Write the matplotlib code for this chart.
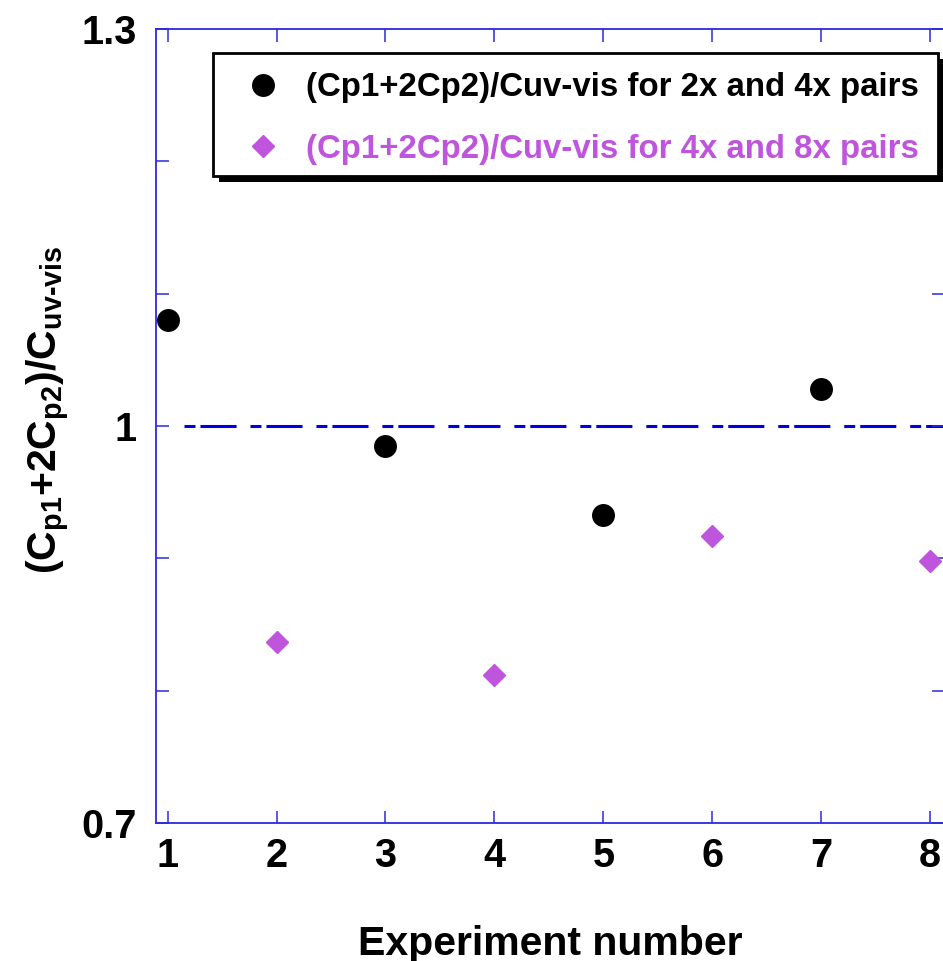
import matplotlib
matplotlib.use("Agg")
import matplotlib.pyplot as plt
from matplotlib.patches import Rectangle
from matplotlib.transforms import offset_copy

# data
exp_a = [1, 3, 5, 7]
ratio_a = [1.080, 0.985, 0.933, 1.028]
exp_b = [2, 4, 6, 8]
ratio_b = [0.837, 0.812, 0.917, 0.898]
label_a = "(Cp1+2Cp2)/Cuv-vis for 2x and 4x pairs"
label_b = "(Cp1+2Cp2)/Cuv-vis for 4x and 8x pairs"
x_ticks = [1, 2, 3, 4, 5, 6, 7, 8]
y_ticks = [0.7, 0.8, 0.9, 1.0, 1.1, 1.2, 1.3]
y_ticklabels = ["0.7", "", "", "1", "", "", "1.3"]

plt.rcParams['font.family'] = ['Liberation Sans', 'DejaVu Sans']
plt.rcParams['font.weight'] = 'bold'
plt.rcParams['mathtext.fontset'] = 'custom'
plt.rcParams['mathtext.rm'] = 'Liberation Sans:bold'
plt.rcParams['mathtext.it'] = 'Liberation Sans:bold'
plt.rcParams['mathtext.bf'] = 'Liberation Sans:bold'
plt.rcParams['lines.scale_dashes'] = False

purple = '#bf55dd'
spine_blue = '#2a2ae0'

fig = plt.figure(figsize=(9.43, 9.61), dpi=100)
ax = fig.add_axes([0.1654, 0.1436, 0.836, 0.8262])

# reference line at 1
ax.hlines(1.0, 1.15, 8.2, colors='#0000dd', linewidth=2.2,
          linestyles=(0, (7.9, 3.6, 26, 10)), zorder=1)

ax.plot(exp_a, ratio_a, 'o', color='black', markersize=15.5,
        linestyle='none', label=label_a, zorder=3)
ax.plot(exp_b, ratio_b, 'D', color=purple, markersize=11,
        linestyle='none', label=label_b, zorder=3)

ax.set_xlim(0.893, 8.13)
ax.set_ylim(0.7, 1.3)
ax.set_xticks(x_ticks)
ax.set_yticks(y_ticks)
ax.set_yticklabels(y_ticklabels)

for s in ax.spines.values():
    s.set_color(spine_blue)
    s.set_linewidth(1.3)
ax.tick_params(direction='in', length=9, width=1.1, color=spine_blue,
               top=True, right=True, labelsize=28.5)
ax.tick_params(axis='x', pad=10)
ax.tick_params(axis='y', pad=14)

ax.set_xlabel("Experiment number", fontsize=29.5, fontweight='bold', labelpad=36)
ax.set_ylabel(r'$\mathrm{(C_{p1}{+}2C_{p2})/C_{uv\text{-}vis}}$', fontsize=29.5)
ax.yaxis.set_label_coords(-0.106, 0.52)

# legend box with a hard black shadow
box = (0.0724, 0.815, 0.9196, 0.155)
shadow = Rectangle((box[0], box[1]), box[2], box[3], facecolor='black',
                   edgecolor='none', zorder=4, clip_on=False,
                   transform=offset_copy(ax.transAxes, fig=fig, x=6, y=-6, units='dots'))
frame = Rectangle((box[0], box[1]), box[2], box[3], facecolor='white',
                  edgecolor='black', linewidth=2, zorder=5, clip_on=False,
                  transform=ax.transAxes)
ax.add_patch(shadow)
ax.add_patch(frame)

leg = ax.legend(loc='upper left', bbox_to_anchor=(0.0864, 0.974),
                fontsize=23.8, frameon=False,
                handlelength=1.0, handletextpad=0.8, borderpad=0.69,
                labelspacing=0.92, borderaxespad=0)
leg.set_zorder(6)
leg.get_texts()[1].set_color(purple)

fig.savefig("out.png", dpi=100)
